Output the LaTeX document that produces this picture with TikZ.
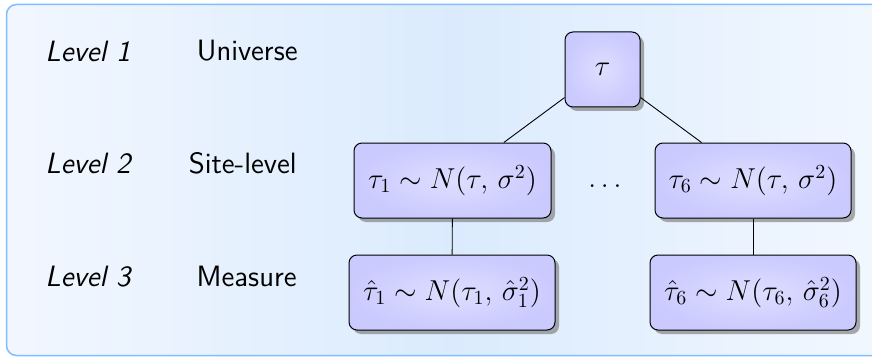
\documentclass[tikz,border=0pt]{standalone}
\usepackage{fontspec}
\usetikzlibrary{shadows}
\definecolor{bgleft}{RGB}{242,247,255}
\definecolor{bgmid}{RGB}{219,235,253}
\definecolor{bgright}{RGB}{243,248,255}
\definecolor{bgborder}{RGB}{128,190,255}
\definecolor{boxin}{RGB}{222,222,255}
\definecolor{boxout}{RGB}{202,202,255}
\tikzset{
  px/.style={x=0.5pt,y=-0.5pt},
  fnt/.style={font=\fontsize{14.7}{17.5}\selectfont},
  vbox/.style={draw=black, line width=0.5pt, rounded corners=4pt,
    inner color=boxin, outer color=boxout,
    drop shadow={shadow xshift=2pt, shadow yshift=-2pt, fill=black!55, opacity=0.6},
    minimum height=37.5pt, inner sep=0pt, fnt},
  lvl/.style={anchor=base west, inner sep=0pt, font=\fontsize{14.7}{17.5}\selectfont\sffamily\itshape},
  lname/.style={anchor=base east, inner sep=0pt, font=\fontsize{14.7}{17.5}\selectfont\sffamily},
  link/.style={draw=black, line width=0.45pt}
}
\begin{document}
\begin{tikzpicture}[px]
\useasboundingbox (0,0) rectangle (872,358);
\clip (0,0) rectangle (872,358);
\draw[draw=bgborder, line width=0.75pt, rounded corners=5pt,
  left color=bgleft, right color=bgright, middle color=bgmid]
  (6.5,4.5) rectangle (900,355.5);
% labels
\node[lvl] (l1) at (45,62) {Level 1};
\node[lvl] (l2) at (45,173) {Level 2};
\node[lvl] (l3) at (45,286) {Level 3};
\node[lname] (n1) at (298,61) {Universe};
\node[lname] (n2) at (297,173) {Site-level};
\node[lname] (n3) at (297,286) {Measure};
% nodes
\node[vbox, minimum width=37.5pt] (tau) at (602.5,69.5) {$\tau$};
\node[vbox, minimum width=98.5pt] (t1) at (452.5,180.5) {$\tau_1 \sim N(\tau,\, \sigma^2)$};
\node[vbox, minimum width=98pt] (t6) at (753,180.5) {$\tau_6 \sim N(\tau,\, \sigma^2)$};
\node[fnt] (dots) at (602.5,180.5) {$\vphantom{N(}\ldots$};
\node[vbox, minimum width=103pt] (h1) at (452,292.5) {$\hat\tau_1 \sim N(\tau_1,\, \hat\sigma_1^2)$};
\node[vbox, minimum width=103pt] (h6) at (753,292.5) {$\hat\tau_6 \sim N(\tau_6,\, \hat\sigma_6^2)$};
% links
\draw[link] (tau) -- (t1);
\draw[link] (tau) -- (t6);
\draw[link] (t1) -- (h1);
\draw[link] (t6) -- (h6);
\end{tikzpicture}
\end{document}
